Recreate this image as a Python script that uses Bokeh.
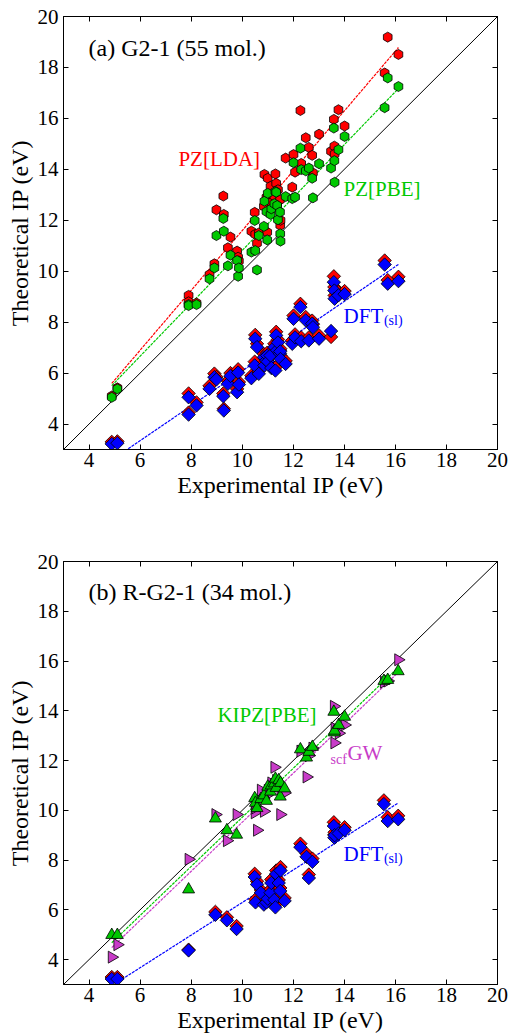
import numpy as np
from bokeh.plotting import figure
from bokeh.models import LinearAxis, FixedTicker, Range1d, Label
from bokeh.layouts import column
from bokeh.embed import file_html
from bokeh.resources import INLINE

# ---------------- G2-1 set (55 molecules) ----------------
x_g2 = [4.89, 5.11, 7.90, 7.90, 8.21, 8.72, 8.91, 8.99, 9.26, 9.28, 9.44, 9.54, 9.80, 9.84,
        9.87, 10.36, 10.49, 10.51, 10.58, 10.65, 10.85, 10.87, 10.95, 10.98, 11.00, 11.11,
        11.14, 11.26, 11.30, 11.33, 11.37, 11.40, 11.48, 11.49, 11.50, 11.70, 11.96, 12.01,
        12.07, 12.28, 12.31, 12.49, 12.61, 12.74, 12.77, 13.01, 13.48, 13.59, 13.61, 13.62,
        13.77, 14.01, 15.58, 15.70, 16.12]
pz_lda = [5.10, 5.42, 9.05, 8.80, 8.75, 9.87, 10.29, 12.41, 12.95, 12.23, 10.92, 11.34, 10.79,
          10.55, 10.40, 11.57, 12.31, 11.45, 11.10, 11.50, 12.55, 13.80, 12.90, 11.53, 13.65,
          13.33, 12.70, 12.95, 13.82, 13.45, 12.64, 13.20, 12.80, 11.80, 12.00, 14.44, 13.30,
          14.58, 13.89, 16.31, 14.23, 15.24, 14.86, 14.55, 13.86, 15.38, 14.71, 15.96, 14.91,
          14.60, 16.34, 15.70, 17.78, 19.19, 18.51]
pz_pbe = [5.05, 5.38, 8.69, 8.65, 8.69, 9.70, 10.13, 11.40, 12.07, 11.57, 10.21, 10.63, 10.42,
          9.80, 10.13, 10.75, 11.99, 10.81, 10.05, 11.40, 11.76, 12.75, 12.34, 11.23, 13.06,
          12.23, 12.45, 12.65, 13.13, 13.10, 12.58, 12.02, 12.32, 11.47, 11.18, 12.93, 12.85,
          14.26, 12.91, 14.83, 13.99, 13.94, 14.05, 13.65, 12.88, 14.22, 14.05, 15.62, 14.34,
          13.49, 14.77, 15.29, 16.42, 17.59, 17.25]
dft_lda_g2 = [3.30, 3.32, 5.20, 4.45, 4.85, 5.50, 5.98, 5.85, 5.20, 4.60, 5.70, 6.00, 5.38,
              6.15, 5.65, 5.90, 6.45, 7.50, 7.15, 6.08, 6.75, 6.40, 6.65, 6.80, 6.58, 6.80,
              6.32, 7.15, 6.22, 7.62, 7.02, 7.32, 6.90, 6.96, 6.68, 6.48, 7.28, 8.26, 7.52,
              8.72, 7.40, 8.20, 7.40, 8.06, 7.92, 7.48, 7.42, 9.80, 9.38, 9.05, 9.18, 9.22,
              10.42, 9.65, 9.78]
dft_pbe_g2 = [3.22, 3.25, 5.05, 4.37, 4.73, 5.38, 5.84, 5.75, 5.09, 4.53, 5.58, 5.89, 5.25,
              6.02, 5.55, 5.80, 6.30, 7.35, 7.02, 5.97, 6.62, 6.30, 6.50, 6.69, 6.45, 6.69,
              6.20, 7.02, 6.10, 7.48, 6.90, 7.20, 6.76, 6.85, 6.55, 6.36, 7.15, 8.13, 7.40,
              8.59, 7.25, 8.07, 7.28, 7.94, 7.80, 7.35, 7.65, 9.57, 9.24, 8.92, 9.05, 9.10,
              10.26, 9.51, 9.61]

# linear trends (slope, intercept)
trend_pz_lda = [1.1745, -0.150]
trend_pz_pbe = [1.0385, 0.430]
trend_dft_g2 = [0.6836, -0.753]

# ---------------- R-G2-1 set (34 molecules) ----------------
x_rg2 = [4.89, 5.11, 7.90, 8.95, 9.40, 9.78, 10.49, 10.52, 10.58, 10.73, 10.85, 10.95, 11.00,
         11.11, 11.14, 11.26, 11.30, 11.33, 11.43, 11.49, 11.50, 11.66, 12.28, 12.52, 12.61,
         12.75, 13.59, 13.61, 13.62, 13.78, 14.01, 15.55, 15.70, 16.11]
kipz_pbe = [4.99, 4.99, 6.82, 9.67, 9.20, 9.02, 10.49, 10.30, 10.09, 10.45, 10.60, 10.38, 10.95,
            10.75, 11.00, 11.08, 11.27, 10.90, 11.21, 10.55, 11.10, 10.88, 12.45, 12.12, 12.35,
            12.55, 13.96, 13.13, 13.20, 13.43, 13.76, 15.20, 15.24, 15.59]
scf_gw = [4.10, 4.60, 8.03, 9.83, 8.78, 9.83, 9.90, 10.10, 9.20, 10.81, 9.96, 10.60, 10.80,
          10.90, 11.10, 11.73, 11.00, 11.20, 11.00, 9.83, 10.85, 10.70, 12.38, 11.34, 12.20,
          12.50, 14.18, 12.71, 13.30, 13.10, 13.43, 15.15, 15.20, 16.05]
dft_lda_rg2 = [3.30, 3.30, 4.40, 5.92, 5.70, 5.35, 7.45, 6.42, 7.15, 6.80, 6.33, 6.42, 6.58,
               6.82, 7.22, 6.52, 6.22, 7.58, 7.20, 6.88, 7.72, 6.48, 8.66, 8.26, 7.42, 8.06,
               9.52, 9.02, 9.12, 9.20, 9.32, 10.40, 9.72, 9.78]
dft_pbe_rg2 = [3.22, 3.22, 4.37, 5.80, 5.58, 5.23, 7.32, 6.30, 7.02, 6.69, 6.21, 6.30, 6.45,
               6.69, 7.08, 6.40, 6.10, 7.44, 7.08, 6.76, 7.58, 6.36, 8.52, 8.13, 7.28, 7.93,
               9.37, 8.90, 9.00, 9.07, 9.20, 10.25, 9.57, 9.64]

trend_kipz = [0.986, -0.143]
trend_gw = [0.986, -0.340]
trend_dft_rg2 = [0.655, -0.256]

AXIS_TICKS = [4, 6, 8, 10, 12, 14, 16, 18, 20]
AXIS_SPAN = [3, 20]
SERIF = "Liberation Serif"
RED = "#ff0000"
GREEN = "#00c800"
BLUE = "#0000ff"
MAGENTA = "#c83cc8"


def make_panel(height, top, bottom):
    p = figure(width=514, height=height, x_range=Range1d(*AXIS_SPAN), y_range=Range1d(*AXIS_SPAN),
               output_backend="svg", toolbar_location=None,
               min_border_left=63, min_border_right=17,
               min_border_top=top, min_border_bottom=bottom)
    p.grid.visible = False
    p.outline_line_color = "black"
    p.outline_line_width = 1
    p.add_layout(LinearAxis(), "above")
    p.add_layout(LinearAxis(), "right")
    for ax in p.axis:
        ax.ticker = FixedTicker(ticks=AXIS_TICKS)
        ax.major_tick_in = 5
        ax.major_tick_out = 0
        ax.minor_tick_line_color = None
        ax.axis_line_color = "black"
        ax.major_tick_line_color = "black"
        ax.major_label_text_font = SERIF
        ax.major_label_text_font_size = "21px"
        ax.major_label_text_color = "black"
        ax.axis_label_text_font = SERIF
        ax.axis_label_text_font_size = "24px"
        ax.axis_label_text_font_style = "normal"
        ax.axis_label_text_color = "black"
    # top and right frames carry ticks only
    for ax in (p.above[0], p.right[0]):
        ax.major_label_text_font_size = "1px"
        ax.major_label_text_color = None
        ax.major_label_standoff = 0
    p.below[0].axis_label = "Experimental IP (eV)"
    p.below[0].major_label_standoff = 3
    p.below[0].axis_label_standoff = 2
    p.left[0].axis_label = "Theoretical IP (eV)"
    p.left[0].major_label_standoff = 5
    p.left[0].axis_label_standoff = 2
    # y = x reference
    p.line(AXIS_SPAN, AXIS_SPAN, line_color="black", line_width=1)
    return p


def trend_line(p, x, coef, color):
    xs = np.array([min(x), max(x)])
    p.line(xs, coef[0] * xs + coef[1], line_color=color, line_width=1.2, line_dash="3 1")


def label(p, x, y, text, color, size):
    p.add_layout(Label(x=x, y=y, text=text, text_color=color, text_font=SERIF,
                       text_font_size=size, text_baseline="middle", text_align="left"))


# ---------------- panel (a) ----------------
pa = make_panel(520, 16, 71)
trend_line(pa, x_g2, trend_pz_lda, RED)
trend_line(pa, x_g2, trend_pz_pbe, GREEN)
trend_line(pa, x_g2, trend_dft_g2, BLUE)
pa.scatter(x_g2, pz_lda, marker="hex", size=10, angle=np.pi / 6,
           fill_color=RED, line_color="black", line_width=0.8)
pa.scatter(x_g2, pz_pbe, marker="hex", size=10, angle=np.pi / 6,
           fill_color=GREEN, line_color="black", line_width=0.8)
pa.scatter(x_g2, dft_lda_g2, marker="square", size=9.5, angle=np.pi / 4,
           fill_color=RED, line_color="black", line_width=0.8)
pa.scatter(x_g2, dft_pbe_g2, marker="square", size=9.5, angle=np.pi / 4,
           fill_color=BLUE, line_color="black", line_width=0.8)
label(pa, 3.98, 18.78, "(a) G2-1 (55 mol.)", "black", "24px")
label(pa, 7.50, 14.39, "PZ[LDA]", RED, "21px")
label(pa, 13.97, 13.21, "PZ[PBE]", GREEN, "21px")
label(pa, 13.97, 8.26, "DFT", BLUE, "21px")
label(pa, 15.55, 8.05, "(sl)", BLUE, "14px")

# ---------------- panel (b) ----------------
pb = make_panel(515, 41, 41)
trend_line(pb, x_rg2, trend_kipz, GREEN)
trend_line(pb, x_rg2, trend_gw, MAGENTA)
trend_line(pb, x_rg2, trend_dft_rg2, BLUE)
pb.scatter(x_rg2, scf_gw, marker="triangle", size=12, angle=-np.pi / 2,
           fill_color=MAGENTA, line_color="black", line_width=0.8)
pb.scatter(x_rg2, kipz_pbe, marker="triangle", size=12,
           fill_color=GREEN, line_color="black", line_width=0.8)
pb.scatter(x_rg2, dft_lda_rg2, marker="square", size=9.5, angle=np.pi / 4,
           fill_color=RED, line_color="black", line_width=0.8)
pb.scatter(x_rg2, dft_pbe_rg2, marker="square", size=9.5, angle=np.pi / 4,
           fill_color=BLUE, line_color="black", line_width=0.8)
label(pb, 3.98, 18.78, "(b) R-G2-1 (34 mol.)", "black", "24px")
label(pb, 9.03, 13.84, "KIPZ[PBE]", GREEN, "21px")
label(pb, 13.46, 12.05, "scf", MAGENTA, "14px")
label(pb, 14.12, 12.30, "GW", MAGENTA, "21px")
label(pb, 13.97, 8.26, "DFT", BLUE, "21px")
label(pb, 15.55, 8.05, "(sl)", BLUE, "14px")

layout = column(pa, pb)
open("out.html", "w").write(file_html(layout, INLINE))
